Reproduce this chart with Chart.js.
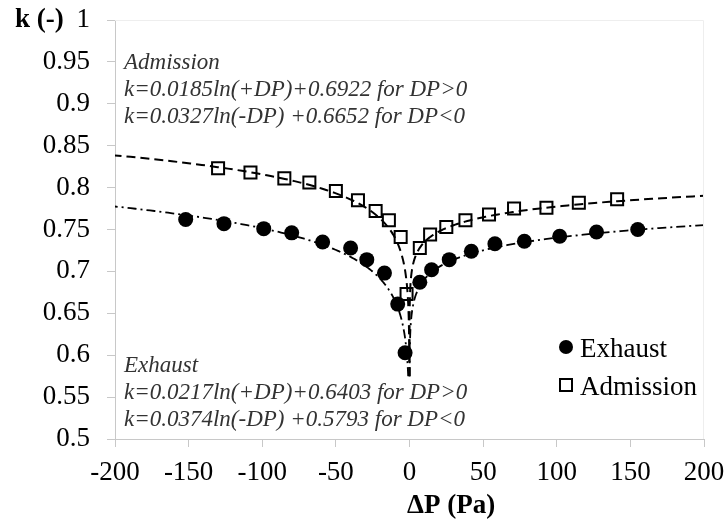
<!DOCTYPE html>
<html>
<head>
<meta charset="utf-8">
<script src="https://cdn.jsdelivr.net/npm/chart.js@4.4.1/dist/chart.umd.min.js"></script>
<style>
  html, body { margin: 0; padding: 0; background: #fff; }
  #wrap { width: 725px; height: 523px; }
</style>
</head>
<body>
<div id="wrap"><canvas id="chart" width="725" height="523"></canvas></div>
<script>
// Measured points (DP in Pa, k dimensionless)
const exhaustDP = [-152, -126, -99, -80, -59, -40, -29, -17, -8, -3, 7, 15, 27, 42, 58, 78, 102, 127, 155];
const exhaustK = [0.762, 0.757, 0.751, 0.746, 0.735, 0.728, 0.714, 0.698, 0.661, 0.603, 0.687, 0.702, 0.714, 0.724, 0.733, 0.736, 0.742, 0.747, 0.750];

const admissionDP = [-130, -108, -85, -68, -50, -35, -23, -14, -6, -2, 7, 14, 25, 38, 54, 71, 93, 115, 141];
const admissionK = [0.823, 0.818, 0.811, 0.806, 0.796, 0.785, 0.772, 0.761, 0.741, 0.673, 0.728, 0.744, 0.753, 0.761, 0.768, 0.775, 0.776, 0.782, 0.786];

// Log trend lines k = a*ln(|DP|) + b, as printed on the chart
const exhaustFitPos = [0.0217, 0.6403];
const exhaustFitNeg = [0.0374, 0.5793];
const admissionFitPos = [0.0185, 0.6922];
const admissionFitNeg = [0.0327, 0.6652];

const xTicks = [-200, -150, -100, -50, 0, 50, 100, 150, 200];
const yTicks = [0.5, 0.55, 0.6, 0.65, 0.7, 0.75, 0.8, 0.85, 0.9, 0.95, 1];

const admissionNote = ['Admission', 'k=0.0185ln(+DP)+0.6922 for DP>0', 'k=0.0327ln(-DP) +0.6652 for DP<0'];
const exhaustNote = ['Exhaust', 'k=0.0217ln(+DP)+0.6403 for DP>0', 'k=0.0374ln(-DP) +0.5793 for DP<0'];

const serif = "'Liberation Serif', 'Times New Roman', serif";
const axisGray = '#c8c8c8';

const toPoints = (xs, ys) => xs.map((v, i) => ({ x: v, y: ys[i] }));

// dashed log curves, drawn through the chart scales
const trendPlugin = {
    id: 'trendLines',
    beforeDatasetsDraw(chart) {
        const { ctx, chartArea, scales } = chart;
        const fits = [
            { coef: exhaustFitPos, sign: 1, dash: [9, 4, 2, 4], width: 1.8 },
            { coef: exhaustFitNeg, sign: -1, dash: [9, 4, 2, 4], width: 1.8 },
            { coef: admissionFitPos, sign: 1, dash: [9, 5], width: 2 },
            { coef: admissionFitNeg, sign: -1, dash: [9, 5], width: 2 }
        ];
        const floorK = 0.575; // curves stop near this k close to DP=0
        ctx.save();
        ctx.beginPath();
        ctx.rect(chartArea.left, chartArea.top, chartArea.width, chartArea.height);
        ctx.clip();
        fits.forEach(f => {
            const [a, b] = f.coef;
            const start = Math.exp((floorK - b) / a);
            const n = 300;
            ctx.beginPath();
            for (let i = 0; i <= n; i++) {
                const dp = start * Math.pow(200 / start, i / n);
                const px = scales.x.getPixelForValue(f.sign * dp);
                const py = scales.y.getPixelForValue(a * Math.log(dp) + b);
                if (i === 0) ctx.moveTo(px, py); else ctx.lineTo(px, py);
            }
            ctx.setLineDash(f.dash);
            ctx.lineWidth = f.width;
            ctx.strokeStyle = '#000';
            ctx.stroke();
        });
        ctx.restore();
    }
};

// titles, equations, legend, faint frame
const textPlugin = {
    id: 'texts',
    afterDraw(chart) {
        const { ctx, chartArea } = chart;
        ctx.save();

        // faint top/right frame
        ctx.strokeStyle = '#eeeeee';
        ctx.lineWidth = 1;
        ctx.beginPath();
        ctx.moveTo(chartArea.left, chartArea.top + 0.5);
        ctx.lineTo(chartArea.right - 0.5, chartArea.top + 0.5);
        ctx.lineTo(chartArea.right - 0.5, chartArea.bottom);
        ctx.stroke();

        ctx.fillStyle = '#000';
        ctx.textBaseline = 'alphabetic';
        ctx.font = 'bold 27px ' + serif;
        ctx.textAlign = 'left';
        ctx.fillText('k (-)', 15, 27);
        ctx.fillText('\u0394P (Pa)', 407, 513);

        ctx.fillStyle = '#333';
        ctx.font = 'italic 23px ' + serif;
        admissionNote.forEach((t, i) => ctx.fillText(t, 124, 69 + i * 27));
        exhaustNote.forEach((t, i) => ctx.fillText(t, 124, 372 + i * 27));

        // legend
        const ds = chart.data.datasets;
        ctx.fillStyle = '#000';
        ctx.beginPath();
        ctx.arc(566, 347, 7, 0, Math.PI * 2);
        ctx.fill();
        ctx.lineWidth = 2;
        ctx.strokeStyle = '#000';
        ctx.setLineDash([]);
        ctx.strokeRect(560, 379, 12, 12);
        ctx.font = '27px ' + serif;
        ctx.fillText(ds[0].label, 580, 357);
        ctx.fillText(ds[1].label, 580, 395);

        ctx.restore();
    }
};

const tickFont = { family: serif, size: 27 };

new Chart(document.getElementById('chart'), {
    type: 'scatter',
    data: {
        datasets: [
            {
                label: 'Exhaust',
                data: toPoints(exhaustDP, exhaustK),
                pointStyle: 'circle',
                pointRadius: 7.5,
                backgroundColor: '#000',
                borderColor: '#000',
                borderWidth: 0
            },
            {
                label: 'Admission',
                data: toPoints(admissionDP, admissionK),
                pointStyle: 'rect',
                pointRadius: 8.5,
                backgroundColor: 'rgba(255,255,255,0)',
                borderColor: '#000',
                borderWidth: 2
            }
        ]
    },
    options: {
        responsive: false,
        animation: false,
        devicePixelRatio: 1,
        layout: { padding: { left: 0, right: 21, top: 20, bottom: 0 } },
        plugins: {
            legend: { display: false },
            tooltip: { enabled: false }
        },
        scales: {
            x: {
                type: 'linear',
                min: -200,
                max: 200,
                afterBuildTicks: s => { s.ticks = xTicks.map(v => ({ value: v })); },
                afterFit: s => { s.height = 84; s.paddingLeft = 0; s.paddingRight = 0; },
                grid: { drawOnChartArea: false, drawTicks: true, tickLength: 8, color: axisGray },
                border: { color: axisGray, width: 1 },
                ticks: {
                    font: tickFont,
                    color: '#000',
                    padding: 10,
                    maxRotation: 0,
                    autoSkip: false,
                    callback: v => String(v)
                }
            },
            y: {
                type: 'linear',
                min: 0.5,
                max: 1,
                afterBuildTicks: s => { s.ticks = yTicks.map(v => ({ value: v })); },
                afterFit: s => { s.width = 115; s.paddingTop = 0; s.paddingBottom = 0; },
                grid: { drawOnChartArea: false, drawTicks: true, tickLength: 8, color: axisGray },
                border: { color: axisGray, width: 1 },
                ticks: {
                    font: tickFont,
                    color: '#000',
                    padding: 17,
                    autoSkip: false,
                    callback: v => String(+Number(v).toFixed(2))
                }
            }
        }
    },
    plugins: [trendPlugin, textPlugin]
});
</script>
</body>
</html>
